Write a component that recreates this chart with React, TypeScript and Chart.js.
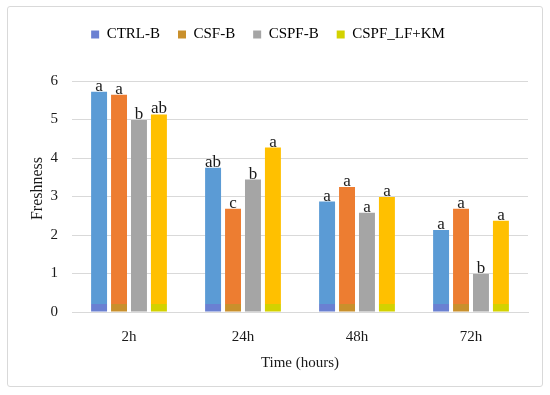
import React, { useEffect, useRef } from "react";
import { Chart, registerables } from "chart.js";

Chart.register(...registerables);

const categories = ["2h", "24h", "48h", "72h"];
const seriesNames = ["CTRL-B", "CSF-B", "CSPF-B", "CSPF_LF+KM"];
const ctrlB = [5.72, 3.75, 2.87, 2.13];
const csfB = [5.64, 2.68, 3.25, 2.68];
const cspfB = [4.99, 3.44, 2.58, 0.99];
const cspfLfKm = [5.13, 4.27, 2.99, 2.37];
const letters = [
  ["a", "ab", "a", "a"],
  ["a", "c", "a", "a"],
  ["b", "b", "a", "b"],
  ["ab", "a", "a", "a"],
];
const yTicks = [0, 1, 2, 3, 4, 5, 6];

const barColors = ["#5B9BD5", "#ED7D31", "#A5A5A5", "#FFC000"];
const baseColors = ["#6A80D2", "#C9902C", "#A5A5A5", "#D3D200"];

const FONT = "'Liberation Serif', 'Times New Roman', serif";

export default function App() {
  const ref = useRef<HTMLCanvasElement | null>(null);

  useEffect(() => {
    if (!ref.current) return;
    const values = [ctrlB, csfB, cspfB, cspfLfKm];

    const makeBg = (i: number) => (ctx: any) => {
      const chart = ctx.chart;
      const area = chart.chartArea;
      if (!area) return barColors[i];
      const yScale = chart.scales.y;
      const y0 = yScale.getPixelForValue(0);
      const yb = yScale.getPixelForValue(0.2);
      const g = chart.ctx.createLinearGradient(0, y0, 0, area.top);
      const stop = Math.min(1, Math.max(0, (y0 - yb) / (y0 - area.top)));
      g.addColorStop(0, baseColors[i]);
      g.addColorStop(stop, baseColors[i]);
      g.addColorStop(stop, barColors[i]);
      g.addColorStop(1, barColors[i]);
      return g;
    };

    const letterPlugin = {
      id: "letters",
      afterDatasetsDraw(chart: any) {
        const c = chart.ctx;
        c.save();
        c.font = `17px ${FONT}`;
        c.fillStyle = "#1a1a1a";
        c.textAlign = "center";
        c.textBaseline = "alphabetic";
        chart.data.datasets.forEach((_: any, di: number) => {
          const meta = chart.getDatasetMeta(di);
          meta.data.forEach((bar: any, i: number) => {
            c.fillText(letters[di][i], bar.x, bar.y - 1);
          });
        });
        c.restore();
      },
    };

    const legendSpace = {
      id: "legendSpace",
      beforeInit(chart: any) {
        const orig = chart.legend.fit;
        chart.legend.fit = function () {
          orig.bind(chart.legend)();
          this.height += 29;
        };
      },
    };

    const chart = new Chart(ref.current, {
      type: "bar",
      data: {
        labels: categories,
        datasets: seriesNames.map((name, i) => ({
          label: name,
          data: values[i],
          backgroundColor: makeBg(i),
          borderWidth: 0,
          categoryPercentage: 0.7,
          barPercentage: 0.8,
        })),
      },
      options: {
        animation: false,
        responsive: false,
        maintainAspectRatio: false,
        layout: { padding: { top: 9, left: 8, right: 22, bottom: 23 } },
        plugins: {
          tooltip: { enabled: false },
          legend: {
            position: "top",
            labels: {
              font: { family: FONT, size: 15 },
              color: "#1a1a1a",
              boxWidth: 8,
              boxHeight: 8,
              padding: 18,
              generateLabels: () =>
                seriesNames.map((n, i) => ({
                  text: n,
                  fillStyle: baseColors[i],
                  strokeStyle: baseColors[i],
                  lineWidth: 0,
                  datasetIndex: i,
                  hidden: false,
                })),
            },
          },
        },
        scales: {
          x: {
            grid: { display: false },
            border: { display: true, color: "#D9D9D9" },
            ticks: { font: { family: FONT, size: 15 }, color: "#1a1a1a", padding: 8 },
            title: {
              display: true,
              text: "Time (hours)",
              font: { family: FONT, size: 15 },
              color: "#1a1a1a",
              padding: { top: 12, bottom: 0 },
            },
            afterFit: (s: any) => {
              s.height = 60;
            },
          },
          y: {
            min: 0,
            max: 6,
            afterBuildTicks: (s: any) => {
              s.ticks = yTicks.map((v) => ({ value: v }));
            },
            grid: { color: "#D9D9D9", drawTicks: false },
            border: { display: false },
            ticks: { font: { family: FONT, size: 15 }, color: "#1a1a1a", padding: 14 },
            title: {
              display: true,
              text: "    Freshness",
              font: { family: FONT, size: 16 },
              color: "#1a1a1a",
              padding: { top: 20, bottom: 0 },
            },
            afterFit: (s: any) => {
              s.width = 64;
            },
          },
        },
      },
      plugins: [letterPlugin, legendSpace],
    });
    return () => chart.destroy();
  }, []);

  return (
    <div style={{ position: "absolute", left: 0, top: 0, width: 550, height: 395, background: "#fff" }}>
      <canvas ref={ref} width={550} height={395} style={{ position: "absolute", left: 0, top: 0 }} />
      <div
        style={{
          position: "absolute",
          left: 7,
          top: 6,
          width: 534,
          height: 379,
          border: "1px solid #D9D9D9",
          borderRadius: 3,
          pointerEvents: "none",
        }}
      />
    </div>
  );
}
